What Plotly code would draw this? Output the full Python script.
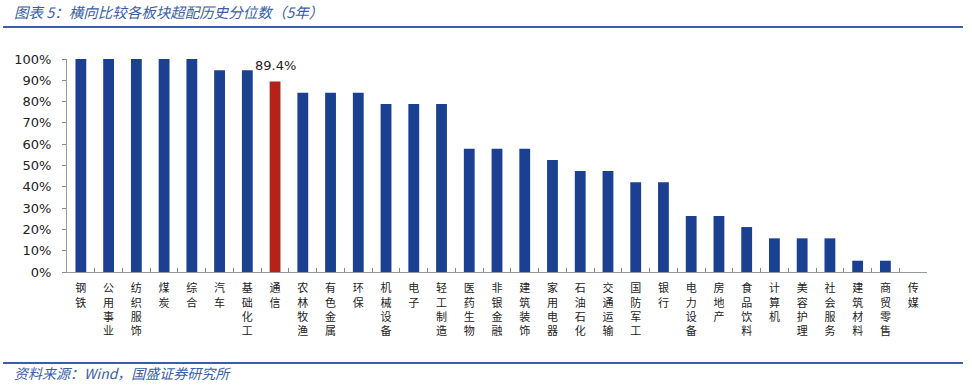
import plotly.graph_objects as go

categories = ["钢铁", "公用事业", "纺织服饰", "煤炭", "综合", "汽车", "基础化工", "通信",
              "农林牧渔", "有色金属", "环保", "机械设备", "电子", "轻工制造", "医药生物",
              "非银金融", "建筑装饰", "家用电器", "石油石化", "交通运输", "国防军工", "银行",
              "电力设备", "房地产", "食品饮料", "计算机", "美容护理", "社会服务", "建筑材料",
              "商贸零售", "传媒"]
values_pct = [100, 100, 100, 100, 100, 94.7, 94.7, 89.4,
              84.2, 84.2, 84.2, 78.9, 78.9, 78.9, 57.9,
              57.9, 57.9, 52.6, 47.4, 47.4, 42.1, 42.1,
              26.3, 26.3, 21.1, 15.8, 15.8, 15.8, 5.3,
              5.3, 0.0]
highlight = "通信"
y_ticks = [0, 10, 20, 30, 40, 50, 60, 70, 80, 90, 100]
title_text = "图表 5：横向比较各板块超配历史分位数（5年）"
source_text = "资料来源：Wind，国盛证券研究所"

BLUE = "#1b3f91"
RED = "#b3231a"
DECOR = "#3a5ea8"

values = [v / 100 for v in values_pct]
colors = [RED if c == highlight else BLUE for c in categories]
tick_text = ["<br>".join(list(c)) for c in categories]

fig = go.Figure()
fig.add_trace(go.Bar(
    x=categories, y=values, marker=dict(color=colors, line=dict(width=0)),
    hoverinfo="x+y", showlegend=False,
))

hi_val = values_pct[categories.index(highlight)]
fig.add_annotation(x=highlight, y=hi_val / 100, xref="x", yref="y",
                   text=f"{hi_val:.1f}%", showarrow=False, yanchor="middle", yshift=16,
                   font=dict(family="DejaVu Sans", size=13, color="#222222"))

# Title and source
fig.add_annotation(xref="paper", yref="paper", x=-0.064, y=1.222, xanchor="left", yanchor="middle",
                   text=f"<i>{title_text}</i>", showarrow=False,
                   font=dict(family="Noto Sans CJK SC", size=14.5, color=DECOR))
fig.add_annotation(xref="paper", yref="paper", x=-0.064, y=-0.474, xanchor="left", yanchor="middle",
                   text=f"<i>{source_text}</i>", showarrow=False,
                   font=dict(family="Noto Sans CJK SC", size=14, color=DECOR))
for yy in (1.150, -0.427):
    fig.add_shape(type="line", xref="paper", yref="paper", x0=-0.0744, x1=1.0419, y0=yy, y1=yy,
                  line=dict(color=DECOR, width=2))

fig.update_layout(
    width=972, height=385,
    margin=dict(l=67, r=45, t=59, b=113),
    paper_bgcolor="white", plot_bgcolor="white",
    bargap=0.61,
    font=dict(family="Noto Sans CJK SC", color="#222222"),
)
fig.update_xaxes(
    type="category", tickmode="array", tickvals=categories, ticktext=tick_text,
    tickangle=0, tickson="boundaries", ticks="inside", ticklen=4, tickcolor="#888888",
    showline=True, linecolor="#999999", linewidth=1, showgrid=False,
    tickfont=dict(family="Noto Sans CJK SC", size=11, color="#222222"),
    ticklabelstandoff=6,
)
fig.update_yaxes(
    range=[0, 1], tickmode="array", tickvals=[t / 100 for t in y_ticks],
    ticktext=[f"{t}%" for t in y_ticks],
    ticks="outside", ticklen=4, tickcolor="#888888",
    showline=True, linecolor="#999999", linewidth=1, showgrid=False, zeroline=False,
    tickfont=dict(family="DejaVu Sans", size=13, color="#222222"),
    ticklabelstandoff=8,
)

fig.write_html("out.html")
